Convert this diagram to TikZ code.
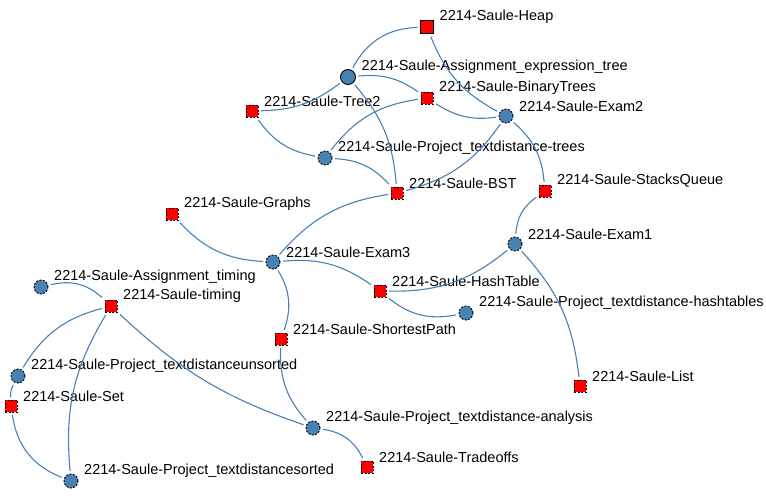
\documentclass[tikz,border=0pt]{standalone}
\usepackage{fontspec}
\setmainfont{Liberation Sans}
\usetikzlibrary{positioning}
\definecolor{steel}{RGB}{70,130,180}
\definecolor{linkblue}{RGB}{72,128,180}

\begin{document}
\begin{tikzpicture} [x=1pt, y=1pt, link/.style ={draw=linkblue, line width=1.1pt},
  topic/.style ={draw, fill=red, dash pattern=on 2pt off 1.5pt, line width=0.9pt, minimum size=12pt, inner sep=0pt, outer sep=3pt},
  work/.style ={circle, draw, fill=steel, dash pattern=on 2pt off 1.5pt, line width=0.9pt, minimum size=14pt, inner sep=0pt, outer sep=3pt},
  every label/.style ={anchor=west, inner sep=0pt, xshift=3pt, yshift=10pt, font=\fontsize{14.5}{17}\selectfont}]
\useasboundingbox (0,0) rectangle (766,-498);
\node[topic, solid, minimum size=13pt] (Heap) at (427,-27) [label=east:2214-Saule-Heap] {};
\node[work, solid, minimum size=15pt] (ExprTree) at (348,-77) [label=east:2214-Saule-Assignment\_expression\_tree] {};
\node[topic] (BinTrees) at (427,-98) [label=east:2214-Saule-BinaryTrees] {};
\node[topic] (Tree2) at (252,-111) [label=east:2214-Saule-Tree2] {};
\node[work] (ExamB) at (506,-116) [label=east:2214-Saule-Exam2] {};
\node[work] (ProjTrees) at (325,-158) [label=east:2214-Saule-Project\_textdistance-trees] {};
\node[topic] (BST) at (397,-193) [label=east:2214-Saule-BST] {};
\node[topic] (Stacks) at (545,-191) [label=east:2214-Saule-StacksQueue] {};
\node[topic] (Graphs) at (172,-214) [label=east:2214-Saule-Graphs] {};
\node[work] (ExamA) at (515,-244) [label=east:2214-Saule-Exam1] {};
\node[work] (ExamC) at (273,-262) [label=east:2214-Saule-Exam3] {};
\node[topic] (Hash) at (380,-291) [label=east:2214-Saule-HashTable] {};
\node[work] (ProjHash) at (466,-313) [label=east:2214-Saule-Project\_textdistance-hashtables] {};
\node[work] (AsgTiming) at (41,-287) [label=east:2214-Saule-Assignment\_timing] {};
\node[topic] (Timing) at (111,-306) [label=east:2214-Saule-timing] {};
\node[topic] (Shortest) at (281,-339) [label=east:2214-Saule-ShortestPath] {};
\node[work] (ProjUnsorted) at (18,-376) [label=east:2214-Saule-Project\_textdistanceunsorted] {};
\node[topic] (Set) at (11,-406) [label=east:2214-Saule-Set] {};
\node[topic] (List) at (580,-386) [label=east:2214-Saule-List] {};
\node[work] (ProjAnalysis) at (313,-428) [label=east:2214-Saule-Project\_textdistance-analysis] {};
\node[topic] (Tradeoffs) at (367,-467) [label=east:2214-Saule-Tradeoffs] {};
\node[work] (ProjSorted) at (71,-481) [label=east:2214-Saule-Project\_textdistancesorted] {};
% links
\path[link] (ExprTree) edge [bend left=30] (Heap);
\path[link] (Heap) edge [bend right=20] (ExamB);
\path[link] (Tree2) edge [bend right=18] (ExprTree);
\path[link] (ExprTree) edge [bend left=20] (BinTrees);
\path[link] (ExprTree) edge [bend left=18] (BST);
\path[link] (BinTrees) edge [bend right=20] (ExamB);
\path[link] (Tree2) edge [bend right=22] (ProjTrees);
\path[link] (BinTrees) edge [bend right=22] (ProjTrees);
\path[link] (ProjTrees) edge [bend left=22] (BST);
\path[link] (ExamB) edge [bend left=20] (BST);
\path[link] (ExamB) edge [bend left=22] (Stacks);
\path[link] (Stacks) edge [bend right=25] (ExamA);
\path[link] (ExamA) edge [bend left=20] (Hash);
\path[link] (ExamA) edge [bend left=18] (List);
\path[link] (BST) edge [bend right=20] (ExamC);
\path[link] (Graphs) edge [bend right=22] (ExamC);
\path[link] (ExamC) edge [bend left=20] (Hash);
\path[link] (ExamC) edge [bend left=25] (Shortest);
\path[link] (Hash) edge [bend right=25] (ProjHash);
\path[link] (Shortest) edge [bend right=22] (ProjAnalysis);
\path[link] (AsgTiming) edge [bend left=28] (Timing);
\path[link] (Timing) edge [bend right=22] (ProjUnsorted);
\path[link] (Timing) edge [bend right=18] (ProjSorted);
\path[link] (Timing) edge [bend right=12] (ProjAnalysis);
\path[link] (ProjUnsorted) edge [bend right=15] (Set);
\path[link] (Set) edge [bend right=30] (ProjSorted);
\path[link] (ProjAnalysis) edge [bend left=28] (Tradeoffs);
\end{tikzpicture}
\end{document}
